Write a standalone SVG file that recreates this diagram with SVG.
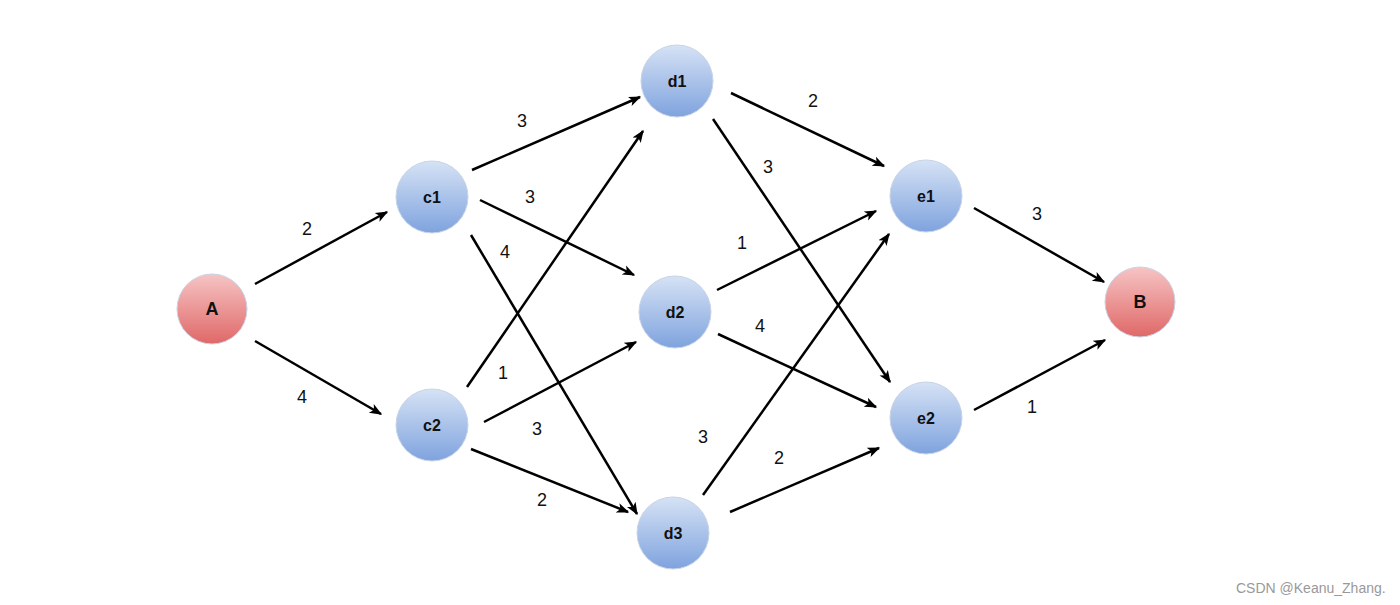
<svg xmlns="http://www.w3.org/2000/svg" width="1400" height="605" viewBox="0 0 1400 605">
<defs>
<linearGradient id="gb" x1="0" y1="0" x2="0" y2="1">
<stop offset="0" stop-color="#d6e2f5"/>
<stop offset="1" stop-color="#7fa3de"/>
</linearGradient>
<linearGradient id="gr" x1="0" y1="0" x2="0" y2="1">
<stop offset="0" stop-color="#f6c4c4"/>
<stop offset="1" stop-color="#e06868"/>
</linearGradient>
<marker id="ah" viewBox="0 0 10 10" refX="9" refY="5" markerWidth="5" markerHeight="5" orient="auto" markerUnits="strokeWidth">
<path d="M0,1 L10,5 L0,9 L2.5,5 z" fill="#000"/>
</marker>
<style>
.n circle{stroke:#c8d4e6;stroke-width:1}
.blue{fill:url(#gb)}
.red{fill:url(#gr)}
.nt{font-family:"Liberation Sans",Arial,sans-serif;font-weight:bold;font-size:16px;fill:#111;text-anchor:middle;dominant-baseline:central}
.ntr{font-size:18px}
.e line{stroke:#000;stroke-width:2.5;marker-end:url(#ah)}
.lb{font-family:"Liberation Sans",Arial,sans-serif;font-size:18px;fill:#111;text-anchor:middle;dominant-baseline:central}
.wm{font-family:"Liberation Sans",Arial,sans-serif;font-size:14px;fill:#999}
</style>
</defs>
<rect width="1400" height="605" fill="#fff"/>
<g id="connectors" class="e">
<line x1="255" y1="284" x2="387" y2="212"/>
<line x1="255" y1="341" x2="381" y2="414"/>
<line x1="472" y1="170" x2="640" y2="97"/>
<line x1="480" y1="200" x2="634" y2="275"/>
<line x1="471" y1="235" x2="637" y2="514"/>
<line x1="467" y1="387" x2="643" y2="131"/>
<line x1="484" y1="422" x2="636" y2="342"/>
<line x1="471" y1="449" x2="628" y2="512"/>
<line x1="731" y1="93" x2="884" y2="166"/>
<line x1="713" y1="119" x2="890" y2="382"/>
<line x1="717" y1="290" x2="876" y2="211"/>
<line x1="718" y1="334" x2="876" y2="407"/>
<line x1="703" y1="495" x2="889" y2="234"/>
<line x1="730" y1="512" x2="879" y2="448"/>
<line x1="974" y1="208" x2="1104" y2="282"/>
<line x1="974" y1="410" x2="1105" y2="340"/>
</g>
<g id="labels">
<text class="lb" x="307" y="229">2</text>
<text class="lb" x="302" y="397">4</text>
<text class="lb" x="522" y="121">3</text>
<text class="lb" x="530" y="197">3</text>
<text class="lb" x="505" y="252">4</text>
<text class="lb" x="503" y="373">1</text>
<text class="lb" x="537" y="429">3</text>
<text class="lb" x="542" y="500">2</text>
<text class="lb" x="813" y="101">2</text>
<text class="lb" x="768" y="167">3</text>
<text class="lb" x="742" y="243">1</text>
<text class="lb" x="760" y="326">4</text>
<text class="lb" x="703" y="437">3</text>
<text class="lb" x="779" y="458">2</text>
<text class="lb" x="1037" y="214">3</text>
<text class="lb" x="1032" y="407">1</text>
</g>
<g id="A" class="n"><circle class="red" cx="212" cy="309" r="35" stroke="#e8c0c0"/><text class="nt ntr" x="212" y="309">A</text></g>
<g id="c1" class="n"><circle class="blue" cx="432" cy="197" r="36"/><text class="nt" x="432" y="197">c1</text></g>
<g id="c2" class="n"><circle class="blue" cx="432" cy="425" r="36"/><text class="nt" x="432" y="425">c2</text></g>
<g id="d1" class="n"><circle class="blue" cx="677" cy="81" r="36"/><text class="nt" x="677" y="81">d1</text></g>
<g id="d2" class="n"><circle class="blue" cx="675" cy="312" r="36"/><text class="nt" x="675" y="312">d2</text></g>
<g id="d3" class="n"><circle class="blue" cx="673" cy="533" r="36"/><text class="nt" x="673" y="533">d3</text></g>
<g id="e1" class="n"><circle class="blue" cx="926" cy="196" r="36"/><text class="nt" x="926" y="196">e1</text></g>
<g id="e2" class="n"><circle class="blue" cx="926" cy="418" r="36"/><text class="nt" x="926" y="418">e2</text></g>
<g id="B" class="n"><circle class="red" cx="1140" cy="302" r="35"/><text class="nt ntr" x="1140" y="302">B</text></g>
<text class="wm" x="1236" y="593">CSDN @Keanu_Zhang.</text>
</svg>
